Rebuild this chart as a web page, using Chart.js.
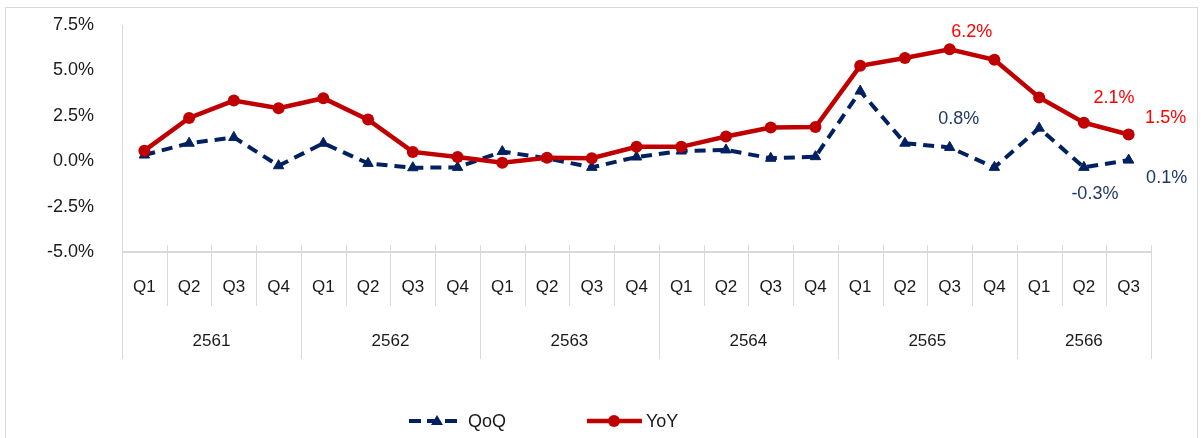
<!DOCTYPE html>
<html>
<head>
<meta charset="utf-8">
<script src="https://cdn.jsdelivr.net/npm/chart.js@4.4.0/dist/chart.umd.min.js"></script>
<style>
  html, body { margin: 0; padding: 0; background: #fff; }
  #wrap { width: 1203px; height: 438px; }
</style>
</head>
<body>
<div id="wrap"><canvas id="growth" width="1203" height="438"></canvas></div>
<script>
// quarters and years on the category axis
const quarters = ['Q1','Q2','Q3','Q4','Q1','Q2','Q3','Q4','Q1','Q2','Q3','Q4',
                  'Q1','Q2','Q3','Q4','Q1','Q2','Q3','Q4','Q1','Q2','Q3'];
const years = ['2561','2562','2563','2564','2565','2566'];
const yearSpans = [4, 4, 4, 4, 4, 3];

// growth, percent
const qoq = [0.34, 0.99, 1.31, -0.25, 0.99, -0.12, -0.36, -0.34, 0.53, 0.16, -0.34,
             0.23, 0.56, 0.62, 0.16, 0.25, 3.86, 0.99, 0.76, -0.34, 1.82, -0.34, 0.06];
const yoy = [0.58, 2.38, 3.34, 2.92, 3.47, 2.29, 0.51, 0.23, -0.08, 0.19, 0.16,
             0.79, 0.79, 1.36, 1.86, 1.88, 5.25, 5.68, 6.16, 5.58, 3.51, 2.12, 1.47];

// which points carry a value label
const qoqLabelled = [18, 21, 22];
const yoyLabelled = [18, 21, 22];

const yMin = -5, yMax = 7.5, yStep = 2.5;

const FONT = "'Liberation Sans', Arial, sans-serif";
const NAVY = '#002060';
const RED = '#c00000';
const GRIDC = '#d9d9d9';

// label offsets from the point, px
const labelOffsets = {
  0: { 18: [9, -28], 21: [11, 27], 22: [38, 18] },
  1: { 18: [22, -17], 21: [30, -25], 22: [37, -16] }
};
const labelColors = ['#203864', '#ff0000'];

const axisPlugin = {
  id: 'axisPlugin',
  beforeDraw(chart) {
    const ctx = chart.ctx;
    ctx.save();
    ctx.strokeStyle = GRIDC;
    ctx.lineWidth = 1;
    ctx.strokeRect(5.5, 7.5, 1192, 480);
    ctx.restore();
  },
  beforeDatasetsDraw(chart) {
    const ctx = chart.ctx;
    const x = chart.scales.x;
    const area = chart.chartArea;
    const cw = x.getPixelForValue(1) - x.getPixelForValue(0);
    ctx.save();
    ctx.strokeStyle = GRIDC;
    ctx.lineWidth = 1;
    // value axis
    ctx.beginPath();
    ctx.moveTo(Math.round(area.left) + 0.5, area.top);
    ctx.lineTo(Math.round(area.left) + 0.5, area.bottom);
    ctx.stroke();
    // category axis
    ctx.lineWidth = 2;
    ctx.beginPath();
    ctx.moveTo(area.left, area.bottom);
    ctx.lineTo(area.right, area.bottom);
    ctx.stroke();
    ctx.lineWidth = 1;
    // separators
    const starts = [];
    let s = 0;
    yearSpans.forEach(n => { starts.push(s); s += n; });
    starts.push(s);
    for (let i = 0; i <= quarters.length; i++) {
      const px = Math.round(x.getPixelForValue(i) - cw / 2) + 0.5;
      const long = starts.indexOf(i) >= 0;
      ctx.beginPath();
      ctx.moveTo(px, area.bottom - 7);
      ctx.lineTo(px, long ? area.bottom + 107 : area.bottom + 54);
      ctx.stroke();
    }
    // labels
    ctx.fillStyle = '#1a1a1a';
    ctx.textAlign = 'center';
    ctx.textBaseline = 'middle';
    ctx.font = '17px ' + FONT;
    quarters.forEach((q, i) => ctx.fillText(q, x.getPixelForValue(i), area.bottom + 35));
    years.forEach((y, k) => {
      const a = x.getPixelForValue(starts[k]) - cw / 2;
      const b = x.getPixelForValue(starts[k + 1]) - cw / 2;
      ctx.fillText(y, (a + b) / 2, area.bottom + 89);
    });
    ctx.restore();
  },
  afterDatasetsDraw(chart) {
    const ctx = chart.ctx;
    ctx.save();
    ctx.font = '18px ' + FONT;
    ctx.textAlign = 'center';
    ctx.textBaseline = 'middle';
    [qoqLabelled, yoyLabelled].forEach((list, di) => {
      const meta = chart.getDatasetMeta(di);
      const vals = chart.data.datasets[di].data;
      ctx.fillStyle = labelColors[di];
      list.forEach(i => {
        const pt = meta.data[i];
        const off = labelOffsets[di][i];
        ctx.fillText(vals[i].toFixed(1) + '%', pt.x + off[0], pt.y + off[1]);
      });
    });

    // legend
    const ly = 421;
    ctx.textAlign = 'left';
    ctx.fillStyle = '#1a1a1a';
    ctx.lineCap = 'butt';
    ctx.strokeStyle = NAVY;
    ctx.lineWidth = 4;
    ctx.setLineDash([12, 6]);
    ctx.beginPath();
    ctx.moveTo(409, ly);
    ctx.lineTo(459, ly);
    ctx.stroke();
    ctx.setLineDash([]);
    ctx.fillStyle = NAVY;
    ctx.beginPath();
    ctx.moveTo(437, ly - 6);
    ctx.lineTo(443, ly + 4);
    ctx.lineTo(431, ly + 4);
    ctx.closePath();
    ctx.fill();
    ctx.fillStyle = '#1a1a1a';
    ctx.fillText(chart.data.datasets[0].label, 468, ly + 1);

    ctx.strokeStyle = RED;
    ctx.lineWidth = 4.5;
    ctx.beginPath();
    ctx.moveTo(587, ly);
    ctx.lineTo(642, ly);
    ctx.stroke();
    ctx.fillStyle = RED;
    ctx.beginPath();
    ctx.arc(614, ly, 6, 0, Math.PI * 2);
    ctx.fill();
    ctx.fillStyle = '#1a1a1a';
    ctx.fillText(chart.data.datasets[1].label, 646, ly + 1);
    ctx.restore();
  }
};

new Chart(document.getElementById('growth'), {
  type: 'line',
  data: {
    labels: quarters,
    datasets: [
      {
        label: 'QoQ',
        data: qoq,
        borderColor: NAVY,
        backgroundColor: NAVY,
        borderWidth: 4,
        borderDash: [11, 7],
        pointStyle: 'triangle',
        pointRadius: 6,
        pointBorderWidth: 1,
        tension: 0,
        order: 1
      },
      {
        label: 'YoY',
        data: yoy,
        borderColor: RED,
        backgroundColor: RED,
        borderWidth: 4.5,
        pointStyle: 'circle',
        pointRadius: 6,
        pointBorderWidth: 0,
        tension: 0,
        order: 0
      }
    ]
  },
  options: {
    responsive: false,
    animation: false,
    layout: { padding: { top: 25, right: 52, bottom: 186, left: 0 } },
    plugins: {
      legend: { display: false },
      tooltip: { enabled: false }
    },
    scales: {
      x: { display: false, offset: true },
      y: {
        min: yMin,
        max: yMax,
        afterFit(scale) {
          scale.width = 122;
          // tick padding would otherwise push the plot down
          scale.paddingTop = 0;
          scale.paddingBottom = 0;
        },
        grid: { display: false, drawTicks: false },
        border: { display: false },
        ticks: {
          stepSize: yStep,
          padding: 28,
          color: '#1a1a1a',
          font: { size: 18, family: FONT },
          callback: v => v.toFixed(1) + '%'
        }
      }
    }
  },
  plugins: [axisPlugin]
});
</script>
</body>
</html>
